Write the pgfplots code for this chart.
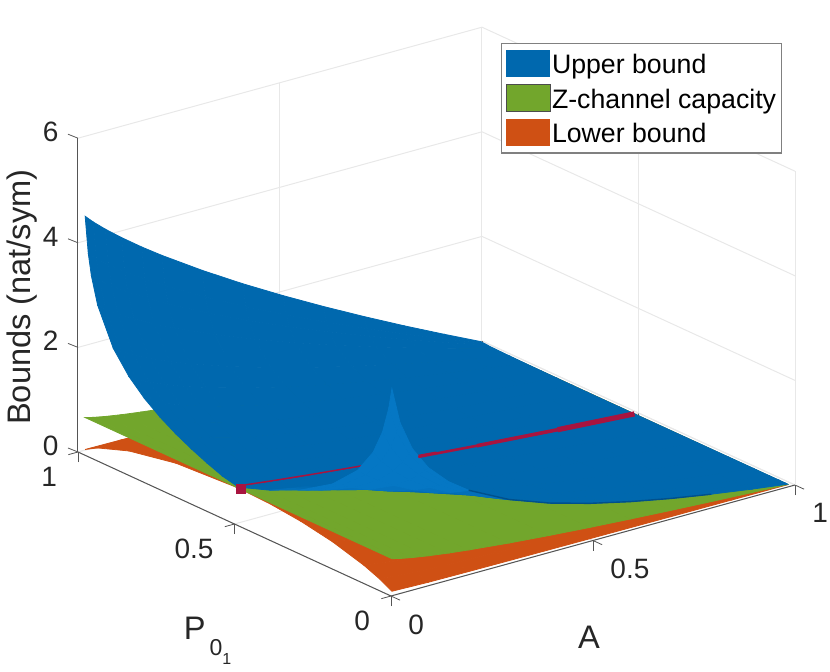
\documentclass[border=0pt]{standalone}
\usepackage{fontspec}
\setmainfont{Liberation Sans}
\usepackage{pgfplots}
\pgfplotsset{compat=1.18}

\definecolor{ublue}{HTML}{0068AE}
\definecolor{ulight}{HTML}{0577C4}
\definecolor{uedge}{HTML}{00508C}
\definecolor{ugreen}{HTML}{72A62C}
\definecolor{uorange}{HTML}{CF5014}
\definecolor{ured}{HTML}{A8143F}
\definecolor{txt}{HTML}{262626}
\definecolor{axln}{HTML}{555555}
\definecolor{gridc}{HTML}{E8E8E8}

\pgfplotsset{
  colormap={cmblue}{color=(ublue) color=(ulight)},
  colormap={cmgreen}{color=(ugreen) color=(ugreen)},
  colormap={cmorange}{color=(uorange) color=(uorange)},
}

\begin{document}
\begin{tikzpicture}
\useasboundingbox (-195.5pt,-37.5pt) rectangle (219.5pt,298pt);
\begin{axis}[
    at={(0,0)}, anchor=origin,
    x={(202pt,55.5pt)}, y={(-156.5pt,72pt)}, z={(0pt,26.15pt)},
    xmin=0, xmax=1, ymin=0, ymax=1, zmin=0, zmax=6,
    xtick={0,0.5,1}, ytick={0,0.5,1}, ztick={0,2,4,6},
    xtick pos=lower, ytick pos=lower, ztick pos=lower,
    /pgf/number format/assume math mode=true,
    grid=major,
    major grid style={draw=gridc,line width=0.5pt},
    axis line style={draw=none},
    tick align=outside,
    tick style={draw=axln,line width=0.4pt},
    z tick style={draw=none},
    major tick length=5pt,
    xlabel={A}, ylabel={P\kern2pt\raisebox{-8pt}{\fontsize{11.5}{11.5}\selectfont 0\raisebox{-4.5pt}{\fontsize{8}{8}\selectfont 1}}},
    zlabel={Bounds (nat/sym)},
    label style={font=\fontsize{16.3}{16.3}\selectfont,text=txt},
    xlabel style={at={(axis cs:0.5,0,0)},anchor=center,xshift=-2pt,yshift=-48.25pt},
    ylabel style={at={(axis cs:0,0.5,0)},anchor=center,xshift=-13.5pt,yshift=-58.5pt},
    zlabel style={at={(axis cs:0,1,3)},anchor=center,xshift=-1pt,yshift=28pt},
    tick label style={font=\fontsize{14}{14}\selectfont,text=txt,inner sep=0pt},
    xticklabel style={anchor=north west,xshift=4pt,yshift=-7pt},
    yticklabel style={anchor=north east,xshift=-5.5pt,yshift=-6pt},
    zticklabel style={anchor=east,xshift=-5pt,yshift=1pt},
    legend style={
      at={(0.59,0.972)},anchor=north west,
      draw=gray,line width=0.6pt,fill=white,
      font=\fontsize{13.35}{13.35}\selectfont,
      inner xsep=2pt,inner ysep=3pt,row sep=3pt,
      nodes={inner sep=0.8pt},
    },
    legend cell align=left,
    legend image code/.code={\path[#1] (0pt,-5.75pt) rectangle (22pt,7.75pt);},
    clip=false,
    point meta min=0, point meta max=1,
]

\addlegendimage{fill=ublue,draw=none}
\addlegendimage{fill=ugreen,draw=black!70,line width=0.4pt}
\addlegendimage{fill=uorange,draw=none}
\legend{Upper bound,Z-channel capacity,Lower bound}

% lower bound
\addplot3[surf,shader=flat,colormap name=cmorange,point meta=0,forget plot] coordinates {
(.01,.99,.055)(.1,.99,.048)(.2,.99,.042)(.3,.99,.036)(.5,.99,.025)(.7,.99,.014)(.85,.99,.007)(.99,.99,.001)

(.01,.95,.194)(.1,.95,.167)(.2,.95,.143)(.3,.95,.121)(.5,.95,.082)(.7,.95,.047)(.85,.95,.023)(.99,.95,.002)

(.01,.85,.412)(.1,.85,.347)(.2,.85,.292)(.3,.85,.244)(.5,.85,.162)(.7,.85,.092)(.85,.85,.044)(.99,.85,.003)

(.01,.7,.591)(.1,.7,.486)(.2,.7,.401)(.3,.7,.331)(.5,.7,.215)(.7,.7,.119)(.85,.7,.057)(.99,.7,.004)

(.01,.5,.665)(.1,.5,.526)(.2,.5,.423)(.3,.5,.342)(.5,.5,.216)(.7,.5,.117)(.85,.5,.055)(.99,.5,.003)

(.01,.4,.642)(.1,.4,.495)(.2,.4,.392)(.3,.4,.314)(.5,.4,.195)(.7,.4,.105)(.85,.4,.049)(.99,.4,.003)

(.01,.3,.578)(.1,.3,.431)(.2,.3,.336)(.3,.3,.265)(.5,.3,.162)(.7,.3,.087)(.85,.3,.040)(.99,.3,.003)

(.01,.2,.467)(.1,.2,.333)(.2,.2,.254)(.3,.2,.197)(.5,.2,.119)(.7,.2,.062)(.85,.2,.029)(.99,.2,.002)

(.01,.1,.294)(.1,.1,.194)(.2,.1,.143)(.3,.1,.109)(.5,.1,.064)(.7,.1,.034)(.85,.1,.015)(.99,.1,.001)

(.01,.05,.172)(.1,.05,.105)(.2,.05,.076)(.3,.05,.057)(.5,.05,.034)(.7,.05,.017)(.85,.05,.008)(.99,.05,.001)

(.01,.01,.042)(.1,.01,.023)(.2,.01,.016)(.3,.01,.012)(.5,.01,.007)(.7,.01,.003)(.85,.01,.002)(.99,.01,.000)
};

% capacity
\addplot3[surf,shader=flat,colormap name=cmgreen,point meta=0,forget plot] coordinates {
(.01,.99,.665)(.03,.99,.626)(.06,.99,.580)(.1,.99,.529)(.15,.99,.475)(.2,.99,.429)(.3,.99,.349)(.4,.99,.282)(.5,.99,.223)(.6,.99,.171)(.7,.99,.123)(.8,.99,.079)(.9,.99,.038)(.99,.99,.004)

(.01,.01,.665)(.03,.01,.626)(.06,.01,.580)(.1,.01,.529)(.15,.01,.475)(.2,.01,.429)(.3,.01,.349)(.4,.01,.282)(.5,.01,.223)(.6,.01,.171)(.7,.01,.123)(.8,.01,.079)(.9,.01,.038)(.99,.01,.004)
};

% upper bound, back part
\addplot3[surf,shader=flat,colormap name=cmblue,point meta=0,forget plot] coordinates {
(.01,.99,4.513)(.03,.99,4.362)(.06,.99,4.160)(.1,.99,3.915)(.15,.99,3.629)(.2,.99,3.362)(.3,.99,2.863)(.4,.99,2.396)(.5,.99,1.956)(.6,.99,1.536)(.7,.99,1.132)(.8,.99,.742)(.9,.99,.366)(.99,.99,.036)

(.01,.98,3.827)(.03,.98,3.691)(.06,.98,3.509)(.1,.98,3.293)(.15,.98,3.043)(.2,.98,2.812)(.3,.98,2.382)(.4,.98,1.985)(.5,.98,1.614)(.6,.98,1.264)(.7,.98,.928)(.8,.98,.606)(.9,.98,.298)(.99,.98,.029)

(.01,.97,3.426)(.03,.97,3.298)(.06,.97,3.130)(.1,.97,2.929)(.15,.97,2.700)(.2,.97,2.489)(.3,.97,2.101)(.4,.97,1.744)(.5,.97,1.415)(.6,.97,1.104)(.7,.97,.808)(.8,.97,.527)(.9,.97,.259)(.99,.97,.025)

(.01,.95,2.921)(.03,.95,2.803)(.06,.95,2.650)(.1,.95,2.471)(.15,.95,2.268)(.2,.95,2.083)(.3,.95,1.747)(.4,.95,1.443)(.5,.95,1.164)(.6,.95,.904)(.7,.95,.660)(.8,.95,.428)(.9,.95,.210)(.99,.95,.020)

(.01,.9,2.235)(.03,.9,2.132)(.06,.9,2.002)(.1,.9,1.852)(.15,.9,1.686)(.2,.9,1.537)(.3,.9,1.273)(.4,.9,1.040)(.5,.9,.831)(.6,.9,.640)(.7,.9,.462)(.8,.9,.298)(.9,.9,.144)(.99,.9,.014)

(.01,.85,1.834)(.03,.85,1.740)(.06,.85,1.623)(.1,.85,1.492)(.15,.85,1.347)(.2,.85,1.222)(.3,.85,1.000)(.4,.85,.808)(.5,.85,.641)(.6,.85,.490)(.7,.85,.351)(.8,.85,.225)(.9,.85,.108)(.99,.85,.010)

(.01,.8,1.549)(.03,.8,1.462)(.06,.8,1.355)(.1,.8,1.238)(.15,.8,1.111)(.2,.8,1.000)(.3,.8,.810)(.4,.8,.649)(.5,.8,.511)(.6,.8,.388)(.7,.8,.276)(.8,.8,.176)(.9,.8,.084)(.99,.8,.008)

(.01,.75,1.329)(.03,.75,1.247)(.06,.75,1.150)(.1,.75,1.042)(.15,.75,.929)(.2,.75,.832)(.3,.75,.667)(.4,.75,.530)(.5,.75,.413)(.6,.75,.312)(.7,.75,.222)(.8,.75,.140)(.9,.75,.066)(.99,.75,.006)

(.01,.7,1.150)(.03,.7,1.073)(.06,.7,.983)(.1,.7,.886)(.15,.7,.782)(.2,.7,.696)(.3,.7,.553)(.4,.7,.434)(.5,.7,.336)(.6,.7,.253)(.7,.7,.177)(.8,.7,.112)(.9,.7,.052)(.99,.7,.005)

(.01,.65,.998)(.03,.65,.926)(.06,.65,.842)(.1,.65,.753)(.15,.65,.661)(.2,.65,.584)(.3,.65,.458)(.4,.65,.357)(.5,.65,.274)(.6,.65,.205)(.7,.65,.143)(.8,.65,.089)(.9,.65,.042)(.99,.65,.004)

(.01,.6,.866)(.03,.6,.799)(.06,.6,.720)(.1,.6,.639)(.15,.6,.556)(.2,.6,.488)(.3,.6,.379)(.4,.6,.293)(.5,.6,.223)(.6,.6,.174)(.7,.6,.128)(.8,.6,.083)(.9,.6,.041)(.99,.6,.004)

(.01,.55,.751)(.03,.55,.687)(.06,.55,.615)(.1,.55,.541)(.15,.55,.482)(.2,.55,.446)(.3,.55,.378)(.4,.55,.315)(.5,.55,.255)(.6,.55,.198)(.7,.55,.145)(.8,.55,.094)(.9,.55,.046)(.99,.55,.005)

(.01,.5,.683)(.03,.5,.664)(.06,.5,.635)(.1,.5,.598)(.15,.5,.553)(.2,.5,.511)(.3,.5,.431)(.4,.5,.357)(.5,.5,.288)(.6,.5,.223)(.7,.5,.163)(.8,.5,.105)(.9,.5,.051)(.99,.5,.005)
};

% red line, left part, goes under the spike
\addplot3[ured,line width=2pt,forget plot] coordinates {
(.01,.5,.683)(.1,.5,.598)(.2,.5,.511)(.3,.5,.431)(.4,.5,.357)(.5,.5,.288)
};

% upper bound, front part, last value of each point = shade
\addplot3[surf,shader=flat,colormap name=cmblue,point meta=explicit,z buffer=sort,forget plot] coordinates {
(.01,.5,.683)[0](.03,.5,.664)[0](.06,.5,.635)[0](.1,.5,.598)[0](.15,.5,.553)[0](.2,.5,.511)[0](.3,.5,.431)[0](.4,.5,.357)[0](.5,.5,.288)[0](.6,.5,.223)[0](.7,.5,.163)[0](.8,.5,.105)[0](.9,.5,.051)[0](.99,.5,.005)[0]

(.01,.4,.901)[0](.03,.4,.872)[0](.06,.4,.830)[0](.1,.4,.777)[0](.15,.4,.713)[0](.2,.4,.654)[0](.3,.4,.545)[0](.4,.4,.446)[0](.5,.4,.357)[0](.6,.4,.274)[0](.7,.4,.198)[0](.8,.4,.128)[0](.9,.4,.062)[0](.99,.4,.006)[0]

(.01,.3,1.181)[1](.03,.3,1.136)[1](.06,.3,1.073)[1](.1,.3,.994)[0](.15,.3,.904)[0](.2,.3,.821)[0](.3,.3,.673)[0](.4,.3,.545)[0](.5,.3,.431)[0](.6,.3,.329)[0](.7,.3,.236)[0](.8,.3,.151)[0](.9,.3,.073)[0](.99,.3,.007)[0]

(.01,.2,1.570)[1](.03,.2,1.496)[1](.06,.2,1.394)[1](.1,.2,1.273)[1](.15,.2,1.139)[0](.2,.2,1.022)[0](.3,.2,.821)[0](.4,.2,.654)[0](.5,.2,.511)[0](.6,.2,.386)[0](.7,.2,.274)[0](.8,.2,.174)[0](.9,.2,.083)[0](.99,.2,.008)[0]

(.01,.12,2.050)[1](.03,.12,1.921)[1](.06,.12,1.756)[1](.1,.12,1.570)[1](.15,.12,1.378)[1](.2,.12,1.217)[0](.3,.12,.957)[0](.4,.12,.751)[0](.5,.12,.580)[0](.6,.12,.434)[0](.7,.12,.307)[0](.8,.12,.194)[0](.9,.12,.092)[0](.99,.12,.009)[0]

(.01,.07,2.534)[1](.03,.07,2.324)[1](.06,.07,2.073)[1](.1,.07,1.814)[1](.15,.07,1.563)[1](.2,.07,1.363)[1](.3,.07,1.053)[0](.4,.07,.816)[0](.5,.07,.625)[0](.6,.07,.465)[0](.7,.07,.327)[0](.8,.07,.206)[0](.9,.07,.098)[0](.99,.07,.009)[0]

(.01,.04,3.004)[1](.03,.04,2.677)[1](.06,.04,2.327)[1](.1,.04,1.995)[1](.15,.04,1.693)[1](.2,.04,1.461)[1](.3,.04,1.115)[0](.4,.04,.858)[0](.5,.04,.654)[0](.6,.04,.485)[0](.7,.04,.340)[0](.8,.04,.213)[0](.9,.04,.101)[0](.99,.04,.010)[0]

(.01,.02,3.513)[1](.03,.02,3.008)[1](.06,.02,2.541)[1](.1,.02,2.137)[1](.15,.02,1.790)[1](.2,.02,1.532)[1](.3,.02,1.158)[0](.4,.02,.887)[0](.5,.02,.673)[0](.6,.02,.498)[0](.7,.02,.348)[0](.8,.02,.218)[0](.9,.02,.103)[0](.99,.02,.010)[0]

(.01,.01,3.917)[1](.03,.01,3.226)[1](.06,.01,2.668)[1](.1,.01,2.216)[1](.15,.01,1.842)[1](.2,.01,1.570)[1](.3,.01,1.181)[0](.4,.01,.901)[0](.5,.01,.683)[0](.6,.01,.504)[0](.7,.01,.352)[0](.8,.01,.221)[0](.9,.01,.104)[0](.99,.01,.010)[0]
};

% darker seam along the front edge of the upper bound
\addplot3[uedge,line width=0.7pt,forget plot] coordinates {
(.2,.01,1.570)(.3,.01,1.181)(.4,.01,.901)(.5,.01,.683)(.6,.01,.504)(.7,.01,.352)(.8,.01,.221)
};

% red line, right part
\addplot3[ured,line width=1.3pt,forget plot] coordinates {(.455,.5,.318)(.6,.5,.223)};
\addplot3[ured,line width=1.8pt,forget plot] coordinates {(.6,.5,.223)(.8,.5,.105)};
\addplot3[ured,line width=2.6pt,forget plot] coordinates {(.8,.5,.105)(.99,.5,.005)};
\addplot3[only marks,mark=square*,mark size=2.2pt,mark options={ured,fill=ured},forget plot] coordinates {(.015,.5,.64)};

% the three axis lines, and the z ticks on the left one only
\draw[axln,line width=0.5pt] (axis cs:0,0,0) -- (axis cs:1,0,0);
\draw[axln,line width=0.5pt] (axis cs:0,0,0) -- (axis cs:0,1,0);
\draw[axln,line width=0.5pt] (axis cs:0,1,0) -- (axis cs:0,1,6);
\draw[axln,line width=0.4pt] (axis cs:0,1,0) -- ++(-5pt,2pt);
\draw[axln,line width=0.4pt] (axis cs:0,1,2) -- ++(-5pt,2pt);
\draw[axln,line width=0.4pt] (axis cs:0,1,4) -- ++(-5pt,2pt);
\draw[axln,line width=0.4pt] (axis cs:0,1,6) -- ++(-5pt,2pt);
\end{axis}
\end{tikzpicture}
\end{document}
